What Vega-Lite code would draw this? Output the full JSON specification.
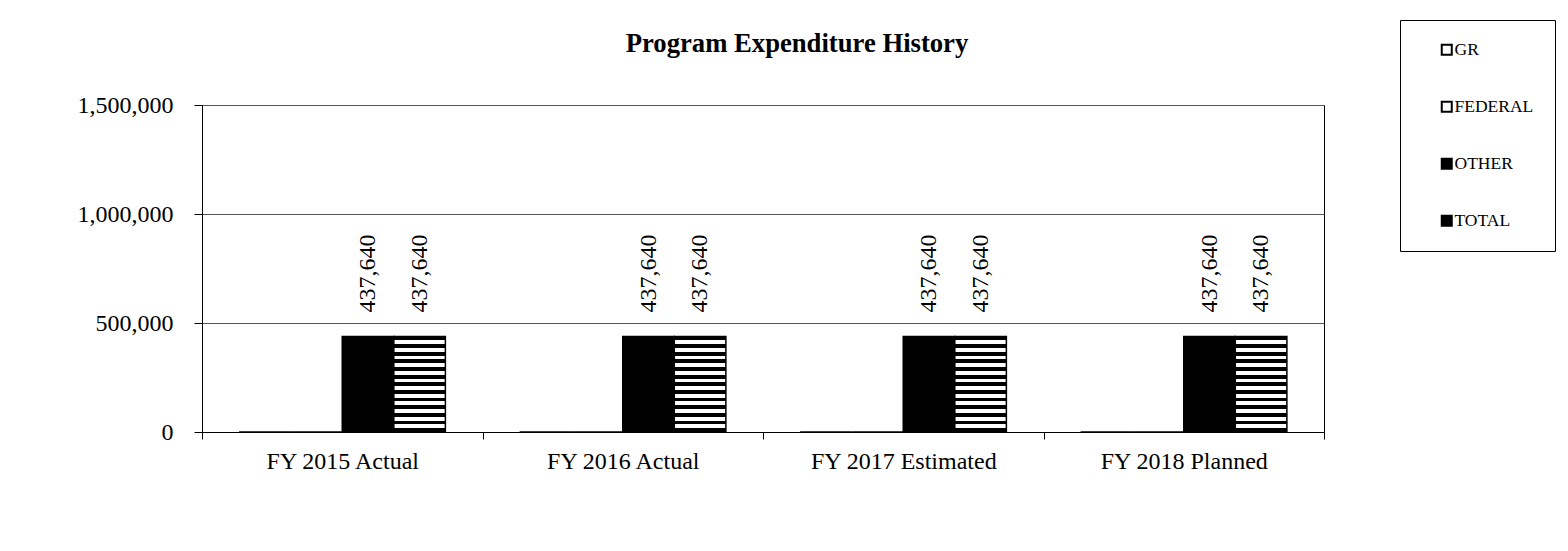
{
  "$schema": "https://vega.github.io/schema/vega-lite/v6.json",
  "autosize": {"type": "none"},
  "padding": {"left": 202, "top": 105, "right": 244, "bottom": 119},
  "width": 1122,
  "height": 327,
  "background": "white",
  "title": {
    "text": "Program Expenditure History",
    "anchor": "middle",
    "frame": "group",
    "dx": 34,
    "offset": -59,
    "font": "Liberation Serif",
    "fontSize": 26.67,
    "fontWeight": "bold",
    "color": "black",
    "baseline": "alphabetic"
  },
  "data": {
    "values": [
      {"year": "FY 2015 Actual", "series": "GR", "value": 0},
      {"year": "FY 2015 Actual", "series": "FEDERAL", "value": 0},
      {"year": "FY 2015 Actual", "series": "OTHER", "value": 437640},
      {"year": "FY 2015 Actual", "series": "TOTAL", "value": 437640},
      {"year": "FY 2016 Actual", "series": "GR", "value": 0},
      {"year": "FY 2016 Actual", "series": "FEDERAL", "value": 0},
      {"year": "FY 2016 Actual", "series": "OTHER", "value": 437640},
      {"year": "FY 2016 Actual", "series": "TOTAL", "value": 437640},
      {"year": "FY 2017 Estimated", "series": "GR", "value": 0},
      {"year": "FY 2017 Estimated", "series": "FEDERAL", "value": 0},
      {"year": "FY 2017 Estimated", "series": "OTHER", "value": 437640},
      {"year": "FY 2017 Estimated", "series": "TOTAL", "value": 437640},
      {"year": "FY 2018 Planned", "series": "GR", "value": 0},
      {"year": "FY 2018 Planned", "series": "FEDERAL", "value": 0},
      {"year": "FY 2018 Planned", "series": "OTHER", "value": 437640},
      {"year": "FY 2018 Planned", "series": "TOTAL", "value": 437640}
    ]
  },
  "encoding": {
    "x": {
      "field": "year",
      "type": "nominal",
      "sort": ["FY 2015 Actual", "FY 2016 Actual", "FY 2017 Estimated", "FY 2018 Planned"],
      "scale": {"paddingInner": 0, "paddingOuter": 0},
      "title": null,
      "axis": {
        "labelAngle": 0,
        "tickBand": "extent",
        "tickSize": 7,
        "labelPadding": 10,
        "labelLimit": 0,
        "domainColor": "black",
        "tickColor": "black",
        "labelFont": "Liberation Serif",
        "labelFontSize": 24,
        "labelColor": "black",
        "grid": false
      }
    },
    "xOffset": {
      "field": "series",
      "type": "nominal",
      "sort": ["GR", "FEDERAL", "OTHER", "TOTAL"],
      "scale": {"paddingInner": 0, "paddingOuter": 0.72}
    },
    "y": {
      "field": "value",
      "type": "quantitative",
      "scale": {"domain": [0, 1500000]},
      "title": null,
      "axis": {
        "values": [0, 500000, 1000000, 1500000],
        "format": ",.0f",
        "grid": true,
        "gridColor": "#555555",
        "tickSize": 8,
        "tickColor": "black",
        "domainColor": "black",
        "labelPadding": 21,
        "labelFont": "Liberation Serif",
        "labelFontSize": 24,
        "labelColor": "black"
      }
    }
  },
  "layer": [
    {
      "mark": {"type": "bar", "strokeWidth": 1.5},
      "encoding": {
        "stroke": {
          "field": "series",
          "type": "nominal",
          "sort": ["GR", "FEDERAL", "OTHER", "TOTAL"],
          "scale": {"domain": ["GR", "FEDERAL", "OTHER", "TOTAL"], "range": ["black", "black", "black", "black"]},
          "legend": {"title": null}
        },
        "fill": {
          "field": "series",
          "type": "nominal",
          "sort": ["GR", "FEDERAL", "OTHER", "TOTAL"],
          "scale": {"domain": ["GR", "FEDERAL", "OTHER", "TOTAL"], "range": ["white", "white", "black", "black"]},
          "condition": {
            "test": "datum.series === 'TOTAL'",
            "value": {
              "gradient": "linear",
              "x1": 0, "y1": 0, "x2": 0, "y2": 1,
              "stops": [
                {"offset": 0, "color": "black"},
                {"offset": 0.04, "color": "black"}, {"offset": 0.04, "color": "white"}, {"offset": 0.08, "color": "white"}, {"offset": 0.08, "color": "black"},
                {"offset": 0.12, "color": "black"}, {"offset": 0.12, "color": "white"}, {"offset": 0.16, "color": "white"}, {"offset": 0.16, "color": "black"},
                {"offset": 0.20, "color": "black"}, {"offset": 0.20, "color": "white"}, {"offset": 0.24, "color": "white"}, {"offset": 0.24, "color": "black"},
                {"offset": 0.28, "color": "black"}, {"offset": 0.28, "color": "white"}, {"offset": 0.32, "color": "white"}, {"offset": 0.32, "color": "black"},
                {"offset": 0.36, "color": "black"}, {"offset": 0.36, "color": "white"}, {"offset": 0.40, "color": "white"}, {"offset": 0.40, "color": "black"},
                {"offset": 0.44, "color": "black"}, {"offset": 0.44, "color": "white"}, {"offset": 0.48, "color": "white"}, {"offset": 0.48, "color": "black"},
                {"offset": 0.52, "color": "black"}, {"offset": 0.52, "color": "white"}, {"offset": 0.56, "color": "white"}, {"offset": 0.56, "color": "black"},
                {"offset": 0.60, "color": "black"}, {"offset": 0.60, "color": "white"}, {"offset": 0.64, "color": "white"}, {"offset": 0.64, "color": "black"},
                {"offset": 0.68, "color": "black"}, {"offset": 0.68, "color": "white"}, {"offset": 0.72, "color": "white"}, {"offset": 0.72, "color": "black"},
                {"offset": 0.76, "color": "black"}, {"offset": 0.76, "color": "white"}, {"offset": 0.80, "color": "white"}, {"offset": 0.80, "color": "black"},
                {"offset": 0.84, "color": "black"}, {"offset": 0.84, "color": "white"}, {"offset": 0.88, "color": "white"}, {"offset": 0.88, "color": "black"},
                {"offset": 0.92, "color": "black"}, {"offset": 0.92, "color": "white"}, {"offset": 0.96, "color": "white"}, {"offset": 0.96, "color": "black"},
                {"offset": 1, "color": "black"}
              ]
            }
          },
          "legend": {
            "title": null,
            "orient": "none",
            "legendX": 1198,
            "legendY": -85,
            "strokeColor": "black",
            "fillColor": "white",
            "padding": 21,
            "symbolType": "square",
            "symbolSize": 100,
            "symbolStrokeWidth": 2,
            "symbolOffset": 17,
            "labelOffset": -1,
            "labelFont": "Liberation Serif",
            "labelFontSize": 17.5,
            "labelColor": "black",
            "rowPadding": 38
          }
        }
      }
    },
    {
      "transform": [{"filter": "datum.value > 0"}],
      "mark": {"type": "text", "angle": 270, "align": "left", "baseline": "middle", "dx": 24, "font": "Liberation Serif", "fontSize": 24, "color": "black"},
      "encoding": {
        "text": {"field": "value", "type": "quantitative", "format": ","}
      }
    }
  ],
  "config": {
    "view": {"stroke": "black", "strokeWidth": 1}
  }
}
